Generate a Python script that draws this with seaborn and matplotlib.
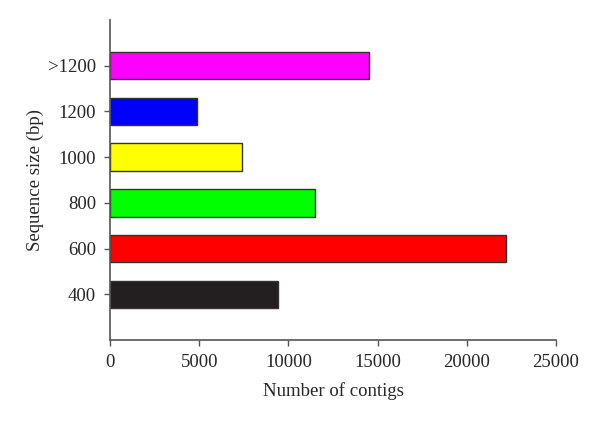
import pandas as pd
import matplotlib
matplotlib.use('Agg')
import matplotlib.pyplot as plt
import seaborn as sns

# data (top to bottom)
sizes = ['>1200', '1200', '1000', '800', '600', '400']
contigs = [14500, 4850, 7400, 11500, 22200, 9400]
colors = ['#ff00ff', '#0000ff', '#ffff00', '#00ff00', '#ff0000', '#231f20']

df = pd.DataFrame({'size': sizes, 'contigs': contigs})

sns.set_style('ticks')
plt.rcParams['font.family'] = ['Liberation Serif', 'DejaVu Serif']

fig = plt.figure(figsize=(6, 4.21), dpi=100)
ax = fig.add_axes([0.1833, 0.1924, 0.7434, 0.76])

sns.barplot(data=df, x='contigs', y='size', hue='size', order=sizes,
            palette=dict(zip(sizes, colors)), orient='h', width=0.6,
            saturation=1, edgecolor='#333333', linewidth=1, legend=False, ax=ax)

ax.set_xlim(0, 25000)
ax.set_ylim(6, -1)
ax.set_xticks([0, 5000, 10000, 15000, 20000, 25000])
ax.set_xlabel('Number of contigs', fontsize=13.5, labelpad=8)
ax.set_ylabel('Sequence size (bp)', fontsize=13.5, labelpad=3)
ax.tick_params(labelsize=13.5, length=4, width=1, color='#555555', pad=6)

sns.despine(ax=ax)
for s in ['left', 'bottom']:
    ax.spines[s].set_color('#555555')
    ax.spines[s].set_linewidth(1.2)

fig.savefig('out.png', dpi=100)
